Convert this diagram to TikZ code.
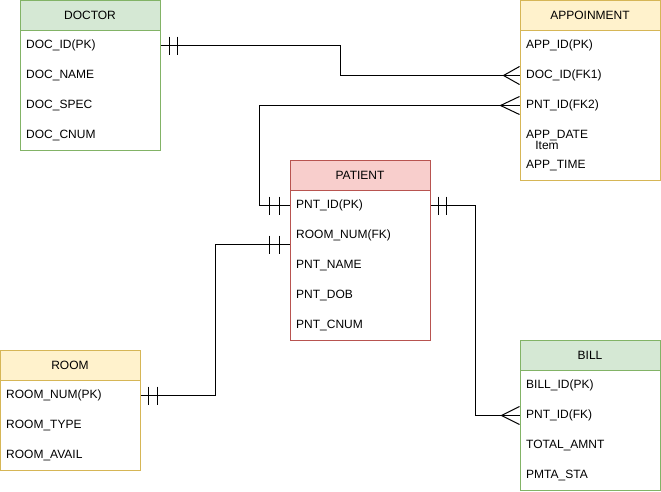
\documentclass[tikz,border=0pt]{standalone}
\usepackage{fontspec}
\setmainfont{Liberation Sans}
\usetikzlibrary{calc}

\definecolor{grfill}{HTML}{D5E8D4}
\definecolor{grline}{HTML}{82B366}
\definecolor{yefill}{HTML}{FFF2CC}
\definecolor{yeline}{HTML}{D6B656}
\definecolor{refill}{HTML}{F8CECC}
\definecolor{reline}{HTML}{B85450}

\tikzset{
  entbox/.style={draw, fill=white, line width=1pt, minimum width=140pt, inner sep=0pt},
  enthead/.style={draw, line width=1pt, minimum width=140pt, minimum height=30pt, inner sep=0pt},
  field/.style={anchor=west, inner sep=0pt, yshift=-1.5pt},
  rel/.style={line width=1pt, black}
}

\begin{document}
\begin{tikzpicture}[x=1pt, y=-1pt, font=\fontsize{12}{14}\selectfont]
  \useasboundingbox (0,0) rectangle (661,491);
  % tables
  \node[entbox, draw=grline, minimum height=150pt] (doctor) at (90,75) {};
  \node[enthead, fill=grfill, draw=grline] (doctorh) at (90,15) {DOCTOR};
  \node[field] (docid) at (26,44) {DOC\_ID(PK)};
  \node[field] (docname) at (26,74) {DOC\_NAME};
  \node[field] (docspec) at (26,104) {DOC\_SPEC};
  \node[field] (doccnum) at (26,134) {DOC\_CNUM};

  \node[entbox, draw=yeline, minimum height=180pt] (appoin) at (590,90) {};
  \node[enthead, fill=yefill, draw=yeline] (appoinh) at (590,15) {APPOINMENT};
  \node[field] (appid) at (526,44) {APP\_ID(PK)};
  \node[field] (appdoc) at (526,74) {DOC\_ID(FK1)};
  \node[field] (apppnt) at (526,104) {PNT\_ID(FK2)};
  \node[field] (appdate) at (526,134) {APP\_DATE};
  \node[field] (apptime) at (526,164) {APP\_TIME};
  \node[inner sep=0pt] (item) at (547,145) {Item};

  \node[entbox, draw=reline, minimum height=180pt] (patient) at (360,250) {};
  \node[enthead, fill=refill, draw=reline] (patienth) at (360,175) {PATIENT};
  \node[field] (pntid) at (296,204) {PNT\_ID(PK)};
  \node[field] (pntroom) at (296,234) {ROOM\_NUM(FK)};
  \node[field] (pntname) at (296,264) {PNT\_NAME};
  \node[field] (pntdob) at (296,294) {PNT\_DOB};
  \node[field] (pntcnum) at (296,324) {PNT\_CNUM};

  \node[entbox, draw=yeline, minimum height=120pt] (room) at (70,410) {};
  \node[enthead, fill=yefill, draw=yeline] (roomh) at (70,365) {ROOM};
  \node[field] (roomnum) at (6,394) {ROOM\_NUM(PK)};
  \node[field] (roomtype) at (6,424) {ROOM\_TYPE};
  \node[field] (roomavail) at (6,454) {ROOM\_AVAIL};

  \node[entbox, draw=grline, minimum height=150pt] (bill) at (590,415) {};
  \node[enthead, fill=grfill, draw=grline] (billh) at (590,355) {BILL};
  \node[field] (billid) at (526,384) {BILL\_ID(PK)};
  \node[field] (billpnt) at (526,414) {PNT\_ID(FK)};
  \node[field] (billamnt) at (526,444) {TOTAL\_AMNT};
  \node[field] (billsta) at (526,474) {PMTA\_STA};

  % relations
  \draw[rel] (doctor.east |- docid) -- ++(180,0) |- (appoin.west |- appdoc);
  \draw[rel] (patient.west |- pntid) -- ++(-30,0) |- (appoin.west |- apppnt);
  \draw[rel] (patient.east |- pntid) -- ++(45,0) |- (bill.west |- billpnt);
  \draw[rel] (room.east |- roomnum) -- ++(75,0) |- ($(patient.west |- pntroom)+(0,9)$);

  % one and only one
  \foreach \d in {9,17}
    \draw[rel] ($(doctor.east |- docid)+(\d,-9)$) -- ++(0,18);
  \foreach \d in {10,20}
    \draw[rel] ($(patient.west |- pntid)+(-\d,-9)$) -- ++(0,18);
  \foreach \d in {8,16}
    \draw[rel] ($(patient.east |- pntid)+(\d,-9)$) -- ++(0,18);
  \foreach \d in {8,17}
    \draw[rel] ($(room.east |- roomnum)+(\d,-9)$) -- ++(0,18);
  \foreach \d in {10,20}
    \draw[rel] ($(patient.west |- pntroom)+(-\d,0)$) -- ++(0,18);

  % many
  \draw[rel] ($(appoin.west |- appdoc)+(0,-9)$) -- ++(-16,9) -- ++(16,9);
  \draw[rel] ($(appoin.west |- apppnt)+(0,-9)$) -- ++(-19,9) -- ++(19,9);
  \draw[rel] ($(bill.west |- billpnt)+(0,-9)$) -- ++(-18,9) -- ++(18,9);
\end{tikzpicture}
\end{document}
